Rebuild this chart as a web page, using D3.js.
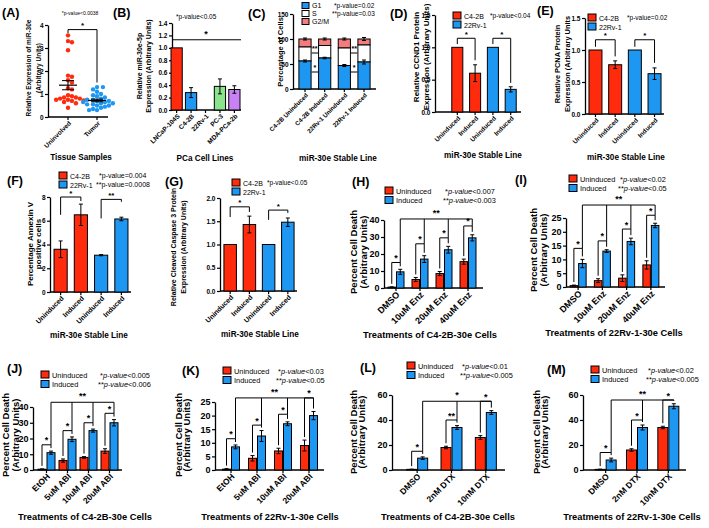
<!DOCTYPE html>
<html><head><meta charset="utf-8">
<script src="https://cdn.jsdelivr.net/npm/d3@7"></script>
<style>body{margin:0;background:#fff}</style>
</head><body><script>
// ================= DATA =================
const aCategories = ["Uninvolved","Tumor"];
const aUninvolved = [3.55,3.3,3.25,2.9,1.8,1.75,1.6,1.5,1.25,1.2,0.95,0.9,0.85,0.85,0.8,0.8,0.75,0.75,0.72,0.7,0.65,0.6,0.4];
const aTumor = [1.3,1.3,1.2,1.1,1.0,0.95,0.9,0.85,0.8,0.75,0.75,0.7,0.7,0.65,0.65,0.6,0.6,0.55,0.55,0.5,0.5,0.45,0.4,0.35,0.3,0.3];
const aTicks = [0,1,2,3,4];

const bCategories = ["LNCaP-104S","C4-2B","22Rv-1","PC-3","MDA-PCa-2b"];
const bValues = [1.0,0.28,0,0.38,0.33];
const bErrors = [0,0.08,0,0.12,0.06];
const bTicks = [0,0.2,0.4,0.6,0.8,1.0,1.2,1.4];

const cCategories = ["C4-2B Uninduced","C4-2B Induced","22Rv-1 Uninduced","22Rv-1 Induced"];
const cG1 = [56,62,47,54];
const cS = [28,25,35,34];
const cG2M = [16,13,18,12];
const cG1Err = [2,1.5,2,4];
const cTotalErr = [2,2,2,3];
const cTicks = [0,50,100,150];

const stableCategories = ["Uninduced","Induced","Uninduced ","Induced "];
const dValues = [1,0.6,1,0.35];   const dErrors = [0,0.13,0,0.04];
const eValues = [1,0.77,1,0.63];  const eErrors = [0,0.06,0,0.09];
const fValues = [3.6,6.5,3.1,6.15]; const fErrors = [0.7,0.9,0.05,0.15];
const gValues = [1,1.43,1,1.48];  const gErrors = [0,0.18,0,0.09];

const hCategories = ["DMSO","10uM Enz","20uM Enz","40uM Enz"];
const hUninduced = [0.5,5,8.5,15.5];  const hUninducedErr = [0.2,1.2,1.2,1.5];
const hInduced = [9.5,17,22.5,29.5];  const hInducedErr = [1.5,2,2,1.8];
const hPairTop = [15,26,29.5,36.5];   const hAllTop = 40.6;

const iCategories = ["DMSO","10uM Enz","20uM Enz","40uM Enz"];
const iUninduced = [0.5,2.3,3.2,8];   const iUninducedErr = [0.2,0.7,1.2,1.5];
const iInduced = [8.5,13,16.5,22.3];  const iInducedErr = [1.5,0.5,1.2,0.8];
const iPairTop = [14,16.7,21,26];     const iAllTop = 29.7;

const jCategories = ["EtOH","5uM ABI","10uM ABI","20uM ABI"];
const jUninduced = [0.5,6,8,12];      const jUninducedErr = [0.2,1,0.5,1.5];
const jInduced = [11,19.5,25,30];     const jInducedErr = [1,1.5,1,2];
const jPairTop = [16,25,30,36];       const jAllTop = 43;

const kCategories = ["EtOH","5uM ABI","10uM ABI","20uM ABI"];
const kUninduced = [0.3,4.3,7,9];     const kUninducedErr = [0.2,1,1,2];
const kInduced = [8.5,12.5,17,20];    const kInducedErr = [0.7,2,0.7,1.5];
const kPairTop = [11.5,16.5,20.5,26.5]; const kAllTop = 26.5;

const lCategories = ["DMSO","2nM DTX","10nM DTX"];
const lUninduced = [0.5,18,26];       const lUninducedErr = [0.2,1,1.5];
const lInduced = [9.5,34,46];         const lInducedErr = [1,1.5,1.5];
const lPairTop = [15,40,55];          const lAllTop = 55;

const mCategories = ["DMSO","2nM DTX","10nM DTX"];
const mUninduced = [0.5,16,34];       const mUninducedErr = [0.2,1,1];
const mInduced = [8,34,51];           const mInducedErr = [1.5,2,2];
const mPairTop = [14,40,56];          const mAllTop = 56;

// ================= DRAWING =================
const FONT = '"Liberation Sans", Arial, Helvetica, sans-serif';
const RED = "#FF2B0C", BLUE = "#1E97F3", PINK = "#F47C7C", GREEN = "#8BE38C", PURPLE = "#C882F4";
const svg = d3.select("body").append("svg").attr("width",709).attr("height",528);
svg.append("rect").attr("width",709).attr("height",528).attr("fill","#fff");

function text(x,y,s,o={}){
  const t = svg.append("text").attr("x",x).attr("y",y).attr("font-family",FONT)
    .attr("font-size",o.size||8).attr("font-weight",o.bold?"bold":"normal")
    .attr("text-anchor",o.anchor||"start").attr("fill","#000");
  if (o.rotate!==undefined) t.attr("transform",`rotate(${o.rotate},${x},${y})`);
  if (o.dy) t.attr("dy",o.dy);
  t.text(s);
  return t;
}
function pText(x,y,stars,rest,size,italic,anchor){
  const t = svg.append("text").attr("x",x).attr("y",y).attr("font-family",FONT)
    .attr("font-size",size).attr("fill","#000").attr("text-anchor",anchor||"start");
  t.append("tspan").text(stars);
  t.append("tspan").attr("font-style",italic?"italic":"normal").text("p-value");
  t.append("tspan").text(rest);
}
function ylabel(lines, xs, yc, size){
  lines.forEach((l,i)=>text(xs[i]+size*0.36, yc, l, {size, bold:true, anchor:"middle", rotate:-90}));
}
function line(x1,y1,x2,y2,w){
  svg.append("line").attr("x1",x1).attr("y1",y1).attr("x2",x2).attr("y2",y2)
    .attr("stroke","#000").attr("stroke-width",w||1);
}
function yAxis(y, x0, ticks, fmt, size){
  const g = svg.append("g").attr("transform",`translate(${x0},0)`)
    .call(d3.axisLeft(y).tickValues(ticks).tickFormat(fmt).tickSize(3).tickSizeOuter(0).tickPadding(1.5));
  g.select(".domain").attr("stroke","#000").attr("stroke-width",1.3);
  g.selectAll(".tick line").attr("stroke","#000").attr("stroke-width",1.2);
  g.selectAll(".tick text").attr("font-size",size).attr("font-weight","bold")
    .attr("font-family",FONT).attr("fill","#000");
}
function xAxis(x0,x1,y0,centers,labels,size){
  line(x0,y0,x1,y0,1.3);
  centers.forEach((c,i)=>{
    line(c,y0,c,y0+3,1.2);
    text(c+2, y0+5, labels[i].trim(), {size, bold:true, anchor:"end", rotate:-45, dy:"0.35em"});
  });
}
function bar(x,w,y,v,color){
  if (v<=0) return;
  svg.append("rect").attr("x",x).attr("y",y(v)).attr("width",w).attr("height",y(0)-y(v))
    .attr("fill",color).attr("stroke","#000").attr("stroke-width",1);
}
function errbar(cx,y,v,e,cap){
  if (!e) return;
  line(cx,y(v-e),cx,y(v+e),1);
  line(cx-cap/2,y(v+e),cx+cap/2,y(v+e),1);
  line(cx-cap/2,y(v-e),cx+cap/2,y(v-e),1);
}
function bracket(xl,xr,yTop,yl,yr,label,size){
  svg.append("path").attr("d",`M${xl},${yl}V${yTop}H${xr}V${yr}`)
    .attr("fill","none").attr("stroke","#000").attr("stroke-width",1);
  if (label) text((xl+xr)/2, yTop-1.5, label, {size, bold:true, anchor:"middle"});
}
function legendSq(x,y,w,h,color){
  svg.append("rect").attr("x",x).attr("y",y).attr("width",w).attr("height",h)
    .attr("fill",color).attr("stroke","#000").attr("stroke-width",1);
}

// ---------- Panel letters ----------
[["(A)",2,17],["(B)",113,17],["(C)",248,18],["(D)",390,18],["(E)",537,15],
 ["(F)",7,185],["(G)",165,186],["(H)",352,186],["(I)",515,184],
 ["(J)",7,373],["(K)",182,375],["(L)",360,372],["(M)",547,374]]
 .forEach(d=>text(d[1],d[2],d[0],{size:12.5,bold:true}));

// ---------- Panel A ----------
(function(){
  const y = d3.scaleLinear().domain([0,4]).range([117,25]);
  const x = d3.scalePoint().domain(aCategories).range([68,97]);
  yAxis(y,48,aTicks,d3.format("d"),6.5);
  xAxis(48,108,y(0),aCategories.map(c=>x(c)),aCategories,6.5);
  function swarm(vals,cx,color){
    const r=2.2, placed=[];
    vals.slice().sort((a,b)=>b-a).forEach(v=>{
      const py=y(v); let px=cx;
      const offs=[0]; for(let i=1;i<10;i++){offs.push(i*r*0.9,-i*r*0.9);}
      for(const o of offs){px=cx+o; if(placed.every(p=>Math.hypot(p[0]-px,p[1]-py)>=2*r*0.92)) break;}
      placed.push([px,py]);
    });
    svg.append("g").selectAll("circle").data(placed).join("circle")
      .attr("cx",d=>d[0]).attr("cy",d=>d[1]).attr("r",r).attr("fill",color);
    const m=d3.mean(vals), se=d3.deviation(vals)/Math.sqrt(vals.length);
    line(cx-9,y(m),cx+9,y(m),1.2);
    line(cx-6,y(m+se),cx+6,y(m+se),1);
    line(cx-6,y(m-se),cx+6,y(m-se),1);
    line(cx,y(m-se),cx,y(m+se),1);
  }
  swarm(aUninvolved,x("Uninvolved"),RED);
  swarm(aTumor,x("Tumor"),BLUE);
  bracket(x("Uninvolved"),x("Tumor"),y(3.8),y(3.65),y(1.5),"*",8);
  pText(80,15,"*","<0.0038",5,false,"middle");
  text(81,160,"Tissue Samples",{size:8.2,bold:true,anchor:"middle"});
  ylabel(["Relative Expression of miR-30e","(Arbitrary Units)"],[29,39],68,6.5);
})();

// ---------- Panel B ----------
(function(){
  const y = d3.scaleLinear().domain([0,1.4]).range([110,23]);
  const x = d3.scaleBand().domain(bCategories).range([171,240]).paddingInner(0.22).paddingOuter(0);
  const colors=[RED,BLUE,BLUE,GREEN,PURPLE];
  yAxis(y,172,bTicks,d3.format(".1f"),6.5);
  const cs=bCategories.map(c=>x(c)+x.bandwidth()/2);
  xAxis(172,241,y(0),cs,bCategories,6.5);
  bCategories.forEach((c,i)=>{bar(x(c),x.bandwidth(),y,bValues[i],colors[i]); errbar(cs[i],y,bValues[i],bErrors[i],4);});
  line(172,y(1.13),241,y(1.13),1);
  text(206,y(1.13)-3,"*",{size:9,bold:true,anchor:"middle"});
  pText(176,19,"*","<0.05",6.5,false);
  text(205,161,"PCa Cell Lines",{size:8.2,bold:true,anchor:"middle"});
  ylabel(["Relative miR-30e-5p","Expression (Arbitrary Units)"],[139,148],66,7);
})();

// ---------- Panel C ----------
(function(){
  const y = d3.scaleLinear().domain([0,150]).range([89,14]);
  const x = d3.scaleBand().domain(cCategories).range([293,376]).paddingInner(0.38).paddingOuter(0.3);
  yAxis(y,293,cTicks,d3.format("d"),6.5);
  const cs=cCategories.map(c=>x(c)+x.bandwidth()/2);
  xAxis(293,376,y(0),cs,cCategories,6.2);
  const w=x.bandwidth();
  cCategories.forEach((c,i)=>{
    const g1=cG1[i], s=g1+cS[i], t=s+cG2M[i];
    svg.append("rect").attr("x",x(c)).attr("y",y(t)).attr("width",w).attr("height",y(s)-y(t)).attr("fill",PINK).attr("stroke","#000");
    svg.append("rect").attr("x",x(c)).attr("y",y(s)).attr("width",w).attr("height",y(g1)-y(s)).attr("fill","#fff").attr("stroke","#000");
    svg.append("rect").attr("x",x(c)).attr("y",y(g1)).attr("width",w).attr("height",y(0)-y(g1)).attr("fill",BLUE).attr("stroke","#000");
    errbar(cs[i],y,g1,cG1Err[i],4); errbar(cs[i],y,t,cTotalErr[i],4);
  });
  [[0,1],[2,3]].forEach(p=>{
    const xl=x(cCategories[p[0]])+w, xr=x(cCategories[p[1]]);
    line(xl+0.5,y(72),xr-0.5,y(72),1); text((xl+xr)/2,y(76),"**",{size:7,bold:true,anchor:"middle"});
    line(xl+0.5,y(34),xr-0.5,y(34),1); text((xl+xr)/2,y(38),"*",{size:7,bold:true,anchor:"middle"});
  });
  [["G1",BLUE],["S","#fff"],["G2/M",PINK]].forEach((d,i)=>{
    legendSq(302,2.5+i*8,7,6,d[1]); text(312,8.3+i*8,d[0],{size:7});
  });
  pText(334,8,"*","=0.02",6.5,false);
  pText(332,16,"**","=0.03",6.5,false);
  text(338,161,"miR-30e Stable Line",{size:8.2,bold:true,anchor:"middle"});
  ylabel(["Percentage of Cells"],[280],52,7.5);
})();

// ---------- 4-bar panels D,E,F,G ----------
function fourBar(o){
  const y = d3.scaleLinear().domain([0,o.max]).range([o.yb,o.yt]);
  const x = d3.scaleBand().domain(stableCategories).range(o.xr).paddingInner(o.pi).paddingOuter(0.1);
  yAxis(y,o.ax,o.ticks,o.fmt,o.tick);
  const cs=stableCategories.map(c=>x(c)+x.bandwidth()/2);
  xAxis(o.ax,o.axEnd,y(0),cs,stableCategories,o.lab);
  const colors=[RED,RED,BLUE,BLUE];
  stableCategories.forEach((c,i)=>{bar(x(c),x.bandwidth(),y,o.vals[i],colors[i]); errbar(cs[i],y,o.vals[i],o.errs[i],4);});
  o.brackets.forEach(b=>bracket(cs[b[0]],cs[b[1]],y(b[2]),y(b[3]),y(b[4]),b[5],8));
  legendSq(o.lx,o.ly,8,7,RED); legendSq(o.lx,o.ly+9,8,7,BLUE);
  text(o.lx+11,o.ly+6.5,"C4-2B",{size:7}); text(o.lx+11,o.ly+15.5,"22Rv-1",{size:7});
  text(o.tx,o.ty,"miR-30e Stable Line",{size:8.2,bold:true,anchor:"middle"});
  ylabel(o.ylab,o.ylx,o.ylc,o.yls);
}
fourBar({max:1.5,yb:112,yt:15,xr:[450,518],pi:0.38,ax:435,axEnd:521,ticks:[0,0.5,1,1.5],fmt:d3.format(".1f"),tick:6.5,lab:6.5,
  vals:dValues,errs:dErrors,brackets:[[0,1,1.14,1.05,0.8,"*"],[2,3,1.14,1.05,0.45,"*"]],
  lx:453,ly:12,tx:483,ty:158,ylab:["Relative CCND1 Protein","Expression (Arbitrary Units)"],ylx:[416,426],ylc:57,yls:8});
pText(490,18,"*","<0.04",6.5,false);

fourBar({max:1.5,yb:114,yt:18,xr:[587,663],pi:0.34,ax:585,axEnd:664,ticks:[0,0.5,1,1.5],fmt:d3.format(".1f"),tick:6.5,lab:6.5,
  vals:eValues,errs:eErrors,brackets:[[0,1,1.16,1.05,0.9,"*"],[2,3,1.16,1.05,0.8,"*"]],
  lx:588,ly:14,tx:626,ty:160,ylab:["Relative PCNA Protein","Expression (Arbitrary Units"],ylx:[557,567],ylc:64,yls:7.4});
pText(627,20,"*","=0.02",6.5,false);

fourBar({max:8,yb:292,yt:197,xr:[52,130],pi:0.35,ax:50,axEnd:131,ticks:[0,2,4,6,8],fmt:d3.format("d"),tick:6.5,lab:7,
  vals:fValues,errs:fErrors,brackets:[[0,1,8,6.5,7.66,"*"],[2,3,7.8,6.2,7.6,"**"]],
  lx:59,ly:172,tx:89,ty:338,ylab:["Percentage Annexin V","positive cells"],ylx:[30,38],ylc:244,yls:8});
pText(99,178,"*","=0.004",7,false);
pText(96,187,"**","=0.0008",7,false);

fourBar({max:2,yb:291,yt:198,xr:[222,296],pi:0.35,ax:220,axEnd:297,ticks:[0,0.5,1,1.5,2],fmt:d3.format(".1f"),tick:6.5,lab:7,
  vals:gValues,errs:gErrors,brackets:[[0,1,1.81,1.59,1.7,"*"],[2,3,1.74,1.53,1.68,"*"]],
  lx:232,ly:179,tx:260,ty:337,ylab:["Relative Cleaved Caspase 3 Protein","Expression (Arbitrary Units)"],ylx:[173,183],ylc:247,yls:7});
pText(267,185,"*","<0.05",6.5,false);

// ---------- grouped panels H-M ----------
function grouped(o){
  const y = d3.scaleLinear().domain([0,o.max]).range([o.yb,o.yt]);
  const x = d3.scaleBand().domain(o.cats).range(o.xr).padding(0);
  yAxis(y,o.ax,o.ticks,d3.format("d"),9);
  const cs=o.cats.map(c=>x(c)+x.bandwidth()/2);
  xAxis(o.ax,o.axEnd,y(0),cs,o.cats,o.lab||9);
  const bw=o.bw, blues=[];
  o.cats.forEach((c,i)=>{
    const rx=cs[i]-bw-0.5, bx=cs[i]+0.5;
    bar(rx,bw,y,o.un[i],RED); bar(bx,bw,y,o.ind[i],BLUE);
    errbar(rx+bw/2,y,o.un[i],o.unE[i],4); errbar(bx+bw/2,y,o.ind[i],o.indE[i],4);
    const rc=rx+bw/2, bc=bx+bw/2; blues.push(bc);
    bracket(rc,bc,y(o.pairTop[i]),y(o.un[i]+o.unE[i])-3,y(o.ind[i]+o.indE[i])-3,o.pairLab[i],9);
    line(bc,y(o.allTop),bc,y(o.pairTop[i]),1);
  });
  line(blues[0],y(o.allTop),blues[blues.length-1],y(o.allTop),1);
  text((blues[0]+blues[blues.length-1])/2,y(o.allTop)-3,o.allLab,{size:9,bold:true,anchor:"middle"});
  legendSq(o.lx,o.ly,8,7,RED); legendSq(o.lx,o.ly+9.5,8,7,BLUE);
  text(o.lx+11,o.ly+6.5,"Uninduced",{size:7.4}); text(o.lx+11,o.ly+16,"Induced",{size:7.4});
  pText(o.px,o.ly+6.5,"*",o.p1,7.4,true);
  pText(o.px-2,o.ly+16,"**",o.p2,7.4,true);
  text(o.tx,o.ty,o.title,{size:9.3,bold:true,anchor:"middle"});
  ylabel(["Percent Cell Death","(Arbitrary Units)"],o.ylx,o.ylc,9.5);
}
grouped({cats:hCategories,un:hUninduced,unE:hUninducedErr,ind:hInduced,indE:hInducedErr,pairTop:hPairTop,allTop:hAllTop,
  pairLab:["*","*","*","*"],allLab:"**",max:40,yb:288,yt:220,ticks:[0,10,20,30,40],xr:[384,480],bw:7.5,ax:384,axEnd:483,
  lx:385,ly:187,px:445,p1:"<0.007",p2:"<0.003",tx:430,ty:338,title:"Treatments of C4-2B-30e Cells",ylx:[354,364],ylc:252});
grouped({cats:iCategories,un:iUninduced,unE:iUninducedErr,ind:iInduced,indE:iInducedErr,pairTop:iPairTop,allTop:iAllTop,
  pairLab:["*","*","*","*"],allLab:"**",max:25,yb:287,yt:218,ticks:[0,5,10,15,20,25],xr:[566,663],bw:7.5,ax:566,axEnd:665,
  lx:569,ly:175,px:620,p1:"<0.02",p2:"<0.05",tx:614,ty:336,title:"Treatments of 22Rv-1-30e Cells",ylx:[534,544],ylc:250});
grouped({cats:jCategories,un:jUninduced,unE:jUninducedErr,ind:jInduced,indE:jInducedErr,pairTop:jPairTop,allTop:jAllTop,
  pairLab:["*","*","*","*"],allLab:"**",max:40,yb:470,yt:407,ticks:[0,10,20,30,40],xr:[36,120],bw:8,ax:33,axEnd:122,lab:8.5,
  lx:41,ly:371,px:100,p1:"<0.005",p2:"<0.006",tx:85,ty:520,title:"Treatments of C4-2B-30e Cells",ylx:[6,16],ylc:435});
grouped({cats:kCategories,un:kUninduced,unE:kUninducedErr,ind:kInduced,indE:kInducedErr,pairTop:kPairTop,allTop:kAllTop,
  pairLab:["*","*","*","*"],allLab:"**",max:25,yb:470,yt:402,ticks:[0,5,10,15,20,25],xr:[218,322],bw:8,ax:215,axEnd:324,lab:8.5,
  lx:223,ly:367,px:278,p1:"<0.03",p2:"<0.05",tx:270,ty:520,title:"Treatments of 22Rv-1-30e Cells",ylx:[179,187],ylc:435});
grouped({cats:lCategories,un:lUninduced,unE:lUninducedErr,ind:lInduced,indE:lInducedErr,pairTop:lPairTop,allTop:lAllTop,
  pairLab:["*","**","*"],allLab:"*",max:60,yb:470,yt:395,ticks:[0,20,40,60],xr:[400,503],bw:10,ax:392,axEnd:505,lab:8.5,
  lx:407,ly:362,px:462,p1:"<0.01",p2:"<0.005",tx:448,ty:520,title:"Treatments of C4-2B-30e Cells",ylx:[354,362],ylc:432});
grouped({cats:mCategories,un:mUninduced,unE:mUninducedErr,ind:mInduced,indE:mInducedErr,pairTop:mPairTop,allTop:mAllTop,
  pairLab:["*","*","*"],allLab:"**",max:60,yb:470,yt:395,ticks:[0,20,40,60],xr:[590,684],bw:10,ax:583,axEnd:686,lab:8.5,
  lx:591,ly:366,px:648,p1:"<0.02",p2:"<0.005",tx:632,ty:520,title:"Treatments of 22Rv-1-30e Cells",ylx:[537,545],ylc:432});
</script></body></html>
